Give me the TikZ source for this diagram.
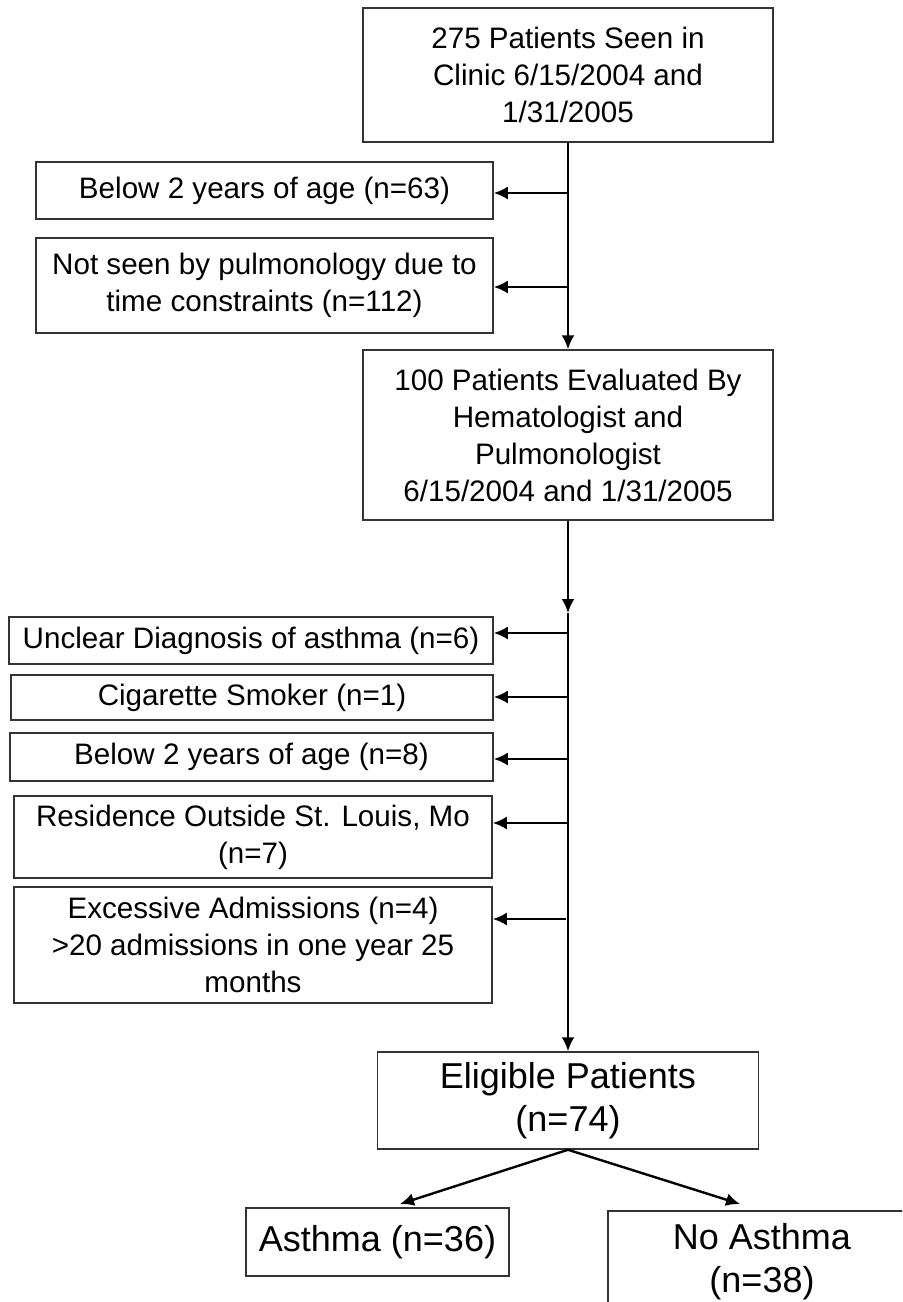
\documentclass[tikz,border=0pt]{standalone}
\usepackage{fontspec}
\setmainfont{Liberation Sans}
\usetikzlibrary{arrows.meta}
\begin{document}
\begin{tikzpicture}[x=0.5pt,y=-0.5pt,
    >={Latex[length=7pt,width=6.5pt]},
    box/.style={draw=black!80,line width=0.75pt,align=center,inner sep=0pt,
      font=\fontsize{14.8}{18.5}\selectfont},
    bigbox/.style={box,font=\fontsize{18}{21.5}\selectfont},
    link/.style={->,line width=1.2pt}]
            \clip (0,0) rectangle (902,1302);
            \node[box,minimum width=205pt,minimum height=67pt] (top) at (568,75) {275 Patients Seen in\\Clinic 6/15/2004 and\\1/31/2005};
            \node[box,minimum width=228.5pt,minimum height=28.5pt] (below63) at (264.5,190.5) {Below 2 years of age (n=63)};
            \node[box,minimum width=228.5pt,minimum height=47.5pt] (notseen) at (264.5,285.5) {Not seen by pulmonology due to\\time constraints (n=112)};
            \node[box,minimum width=205pt,minimum height=85pt] (eval) at (568,435) {100 Patients Evaluated By\\Hematologist and\\Pulmonologist\\6/15/2004 and 1/31/2005};
            \node[box,minimum width=242pt,minimum height=23.5pt] (unclear) at (251,640.5) {Unclear Diagnosis of asthma (n=6)};
            \node[box,minimum width=241pt,minimum height=22.5pt] (smoker) at (252,697.5) {Cigarette Smoker (n=1)};
            \node[box,minimum width=241.5pt,minimum height=24pt] (below8) at (251.5,757) {Below 2 years of age (n=8)};
            \node[box,minimum width=239pt,minimum height=41pt] (residence) at (253,837) {Residence Outside St. Louis, Mo\\(n=7)};
            \node[box,minimum width=239pt,minimum height=58pt] (excessive) at (253,945) {Excessive Admissions (n=4)\\>20 admissions in one year 25\\months};
            \node[bigbox,minimum width=190.5pt,minimum height=48.5pt] (eligible) at (568,1100.5) {Eligible Patients\\(n=74)};
            \node[bigbox,minimum width=131.5pt,minimum height=34pt] (asthma) at (377.5,1242) {Asthma (n=36)};
            \node[bigbox,minimum width=154pt,minimum height=51pt] (noasthma) at (762,1262) {No Asthma\\(n=38)};
            \coordinate (j1) at (568,193);
            \coordinate (j2) at (568,287);
            \coordinate (mid) at (568,613);
            \coordinate (j3) at (568,633);
            \coordinate (j4) at (568,697);
            \coordinate (j5) at (568,759);
            \coordinate (j6) at (568,823);
            \coordinate (j7) at (566,919);
            \coordinate (ya) at (400,1204);
            \coordinate (yn) at (740,1204);
            \draw[link] (top) -- (eval);
            \draw[link] (j1) -- (j1 -| below63.east);
            \draw[link] (j2) -- (j2 -| notseen.east);
            \draw[link] (eval.south) -- (mid);
            \draw[link] (mid) -- (eligible.north);
            \draw[link] (j3) -- (j3 -| unclear.east);
            \draw[link] (j4) -- (j4 -| smoker.east);
            \draw[link] (j5) -- (j5 -| below8.east);
            \draw[link] (j6) -- (j6 -| residence.east);
            \draw[link] (j7) -- (j7 -| excessive.east);
            \draw[link] (eligible.south) -- (ya);
            \draw[link] (eligible.south) -- (yn);
          \end{tikzpicture}
\end{document}
